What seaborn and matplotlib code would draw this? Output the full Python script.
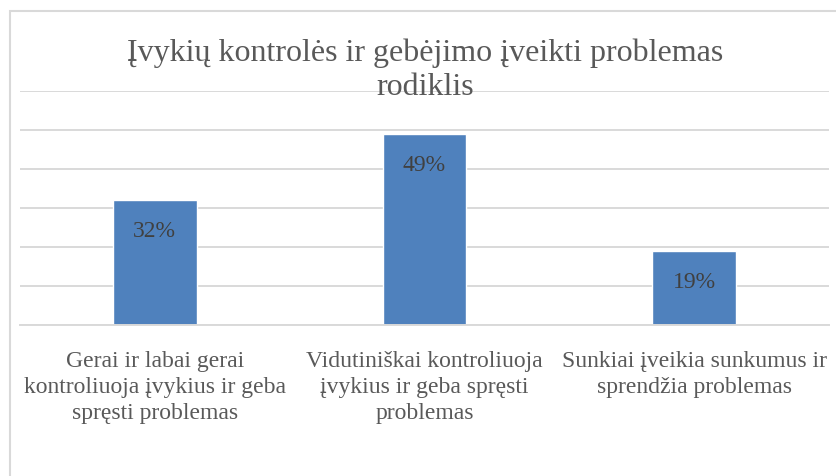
import matplotlib
matplotlib.use("Agg")
import matplotlib.pyplot as plt
from matplotlib.patches import Rectangle
import seaborn as sns

# chart data
CATEGORIES = [
    "Gerai ir labai gerai\nkontroliuoja įvykius ir geba\nspręsti problemas",
    "Vidutiniškai kontroliuoja\nįvykius ir geba spręsti\nproblemas",
    "Sunkiai įveikia sunkumus ir\nsprendžia problemas",
]
VALUES = [0.32, 0.49, 0.19]
VALUE_LABELS = ["32%", "49%", "19%"]
Y_TICKS = [0.0, 0.1, 0.2, 0.3, 0.4, 0.5, 0.6]
TITLE = "Įvykių kontrolės ir gebėjimo įveikti problemas\nrodiklis"

BAR_COLOR = "#4F81BD"
GRID_COLOR = "#D9D9D9"
TEXT_COLOR = "#595959"

sns.set_theme(style="white")
plt.rcParams["font.family"] = ["Liberation Serif", "DejaVu Serif"]

W, H = 837, 477
fig = plt.figure(figsize=(W / 100, H / 100), dpi=100)

# outer chart frame (only left and top edges visible in the crop)
fig.patches.append(Rectangle((10 / W, -0.2), 1.2, 1.2 - 12 / H, transform=fig.transFigure,
                             fill=False, edgecolor=GRID_COLOR, linewidth=1.5))

ax = fig.add_axes([20 / W, 1 - 326 / H, 809 / W, 234 / H])
sns.barplot(x=CATEGORIES, y=VALUES, color=BAR_COLOR, saturation=1, width=0.31, ax=ax)

ax.set_xlim(-0.5, len(CATEGORIES) - 0.5)
ax.set_ylim(0, max(Y_TICKS))
ax.set_yticks(Y_TICKS)
ax.set_yticklabels([])
ax.tick_params(axis="y", length=0)
ax.yaxis.grid(True, color=GRID_COLOR, linewidth=1.4)
ax.set_axisbelow(True)

for side in ["left", "right", "top"]:
    ax.spines[side].set_visible(False)
ax.spines["bottom"].set_color(GRID_COLOR)
ax.spines["bottom"].set_linewidth(1.4)

ax.set_xticks(range(len(CATEGORIES)))
ax.set_xticklabels(CATEGORIES, fontsize=17, color=TEXT_COLOR, linespacing=1.32)
ax.tick_params(axis="x", which="major", length=0, pad=18)
ax.set_xticks([i - 0.5 for i in range(len(CATEGORIES) + 1)], minor=True)
ax.tick_params(axis="x", which="minor", length=6, width=1.4, color=GRID_COLOR, direction="out")
ax.set_xlabel("")
ax.set_ylabel("")

for i, (v, lab) in enumerate(zip(VALUES, VALUE_LABELS)):
    ax.annotate(lab, (i, v), xytext=(0, -22), textcoords="offset points",
                ha="center", va="center", fontsize=17, color="#404040")

fig.text(425 / W, 1 - 70 / H, TITLE, ha="center", va="center", fontsize=23,
         color=TEXT_COLOR, linespacing=1.25)

fig.savefig("out.png", dpi=100)
